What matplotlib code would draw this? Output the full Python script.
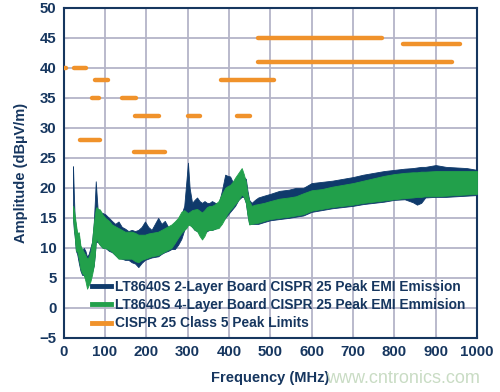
import numpy as np
import matplotlib
matplotlib.use("Agg")
import matplotlib.pyplot as plt
from matplotlib.lines import Line2D

# ---- data ----
freq = [23, 25, 27, 30, 33, 37, 41, 45, 49, 53, 57, 61, 65, 69, 73, 76, 78, 80, 83, 88,
        95, 101, 110, 117, 125, 133, 141, 149, 157, 165, 173, 181, 189, 197, 205, 213,
        221, 229, 237, 245, 253, 261, 269, 277, 285, 292, 297, 301, 305, 311, 317, 323,
        329, 335, 341, 347, 353, 359, 367, 375, 383, 391, 397, 403, 409, 415, 423, 431,
        436, 441, 445, 449, 455, 463, 471, 485, 500, 522, 545, 562, 580, 600, 625, 650,
        675, 700, 725, 750, 775, 800, 825, 845, 855, 865, 875, 900, 925, 950, 975, 1000]

green_lo = [15, 13.5, 12, 9.5, 9.5, 8.2, 6.5, 5.8, 5.5, 4.5, 3.2, 3.8, 4.4, 5.5, 7, 9, 11, 11.5, 11, 10.5,
            10, 10, 9.7, 9.4, 8.8, 8.2, 8.2, 8.2, 8.2, 8.2, 7.8, 7.6, 8, 8.2, 8.4, 8.6,
            8.7, 8.8, 9.1, 9.4, 9.7, 10, 10.8, 11.7, 12.5, 13, 13.3, 13.8, 13.8, 13.5, 13, 12.8,
            12, 11.4, 12, 13, 13, 13, 13.2, 13.3, 14, 15, 15.8, 16.3, 16.8, 17.3, 18, 18.9,
            18.5, 17.5, 15.5, 13.9, 14, 14.1, 14.2, 14.5, 14.8, 15, 15.2, 15.4, 15.6, 16.2, 16.5, 16.8,
            17, 17.2, 17.5, 17.7, 17.9, 18.1, 18.3, 18.4, 18.5, 18.5, 18.6, 18.6, 18.7, 18.8, 18.9, 19]
green_hi = [17, 16.5, 15.5, 14, 12.5, 12.6, 10.4, 9.8, 9.3, 8.8, 8.2, 8.5, 9.3, 11, 14, 15.5, 16.5, 16.8, 16.5, 16.4,
            15.5, 15, 14.5, 13.9, 13.6, 13.3, 13, 12.7, 12.7, 12.7, 12.5, 12.2, 12.2, 12.2, 12.4, 12.5,
            12.6, 12.7, 13, 13.3, 13.6, 13.9, 14.4, 15, 16, 16.3, 16, 15.8, 16, 16.3, 16.4, 16.5,
            16.2, 15.9, 16.3, 16.8, 17, 17, 17.3, 17.8, 19, 20, 20.3, 20.5, 21, 21.7, 22.5, 23.3,
            22.3, 21, 19, 17.8, 17, 17.2, 17.3, 17.5, 17.8, 18.2, 18.4, 18.6, 19.1, 19.6, 19.8, 20.2,
            20.5, 20.8, 21.2, 21.6, 22, 22.3, 22.5, 22.6, 22.6, 22.7, 22.7, 22.8, 22.8, 22.8, 22.8, 22.8]
blue_lo = [15, 13, 12, 9.5, 9, 7.5, 6.2, 5.5, 5.5, 5, 4.5, 5, 5.5, 6, 7, 9, 11, 11, 11, 10.5,
           10, 10, 9.5, 9.3, 8.8, 8.3, 8.2, 8, 8, 7.6, 7.4, 6.8, 7.5, 8, 8.2, 8.4,
           8.5, 8.6, 9, 9.3, 9.5, 9.8, 9.8, 10.5, 11.5, 13, 13.5, 14, 14, 13.5, 13, 12.8,
           12.5, 12, 12.5, 12.8, 13, 13, 13.2, 13.5, 14.5, 15, 15.5, 16, 16.5, 17, 18, 18.5,
           18.5, 17.5, 15.5, 14, 14, 14, 14, 14.3, 14.6, 14.8, 15, 15.2, 15.4, 16, 16.3, 16.6,
           16.8, 17, 17.3, 17.5, 17.7, 18, 18.1, 17.6, 17.2, 17.5, 18.4, 18.5, 18.5, 18.6, 18.7, 18.8]
blue_hi = [23.6, 19, 15, 13.5, 12, 12, 10, 9.5, 10, 9.5, 8.5, 9, 10, 11, 14, 18, 21.1, 19, 16, 16,
           15.8, 15.6, 15, 14.5, 14, 14.4, 13.5, 13.2, 12.8, 13, 12.8, 13, 13.5, 14.4, 13.5, 13,
           14, 15, 14, 14.5, 13.5, 13.5, 13, 14, 15.5, 17, 21, 24.2, 20, 17.5, 18, 18.4,
           17.8, 17.5, 17.8, 17.5, 17.5, 17.8, 17.5, 17.3, 19.5, 22.2, 22, 21.9, 21, 21.2, 21.5, 21.5,
           21.8, 21.5, 19.5, 18, 17.5, 18, 18.4, 18.7, 19, 19.5, 19.7, 20, 20, 20.8, 21, 21.2,
           21.5, 21.8, 22.2, 22.5, 22.8, 23, 23.2, 23.3, 23.4, 23.5, 23.5, 23.8, 23.5, 23.4, 23.3, 23]

# limit segments: (start MHz, stop MHz, level dBuV/m)
limit_start = [0.15, 26, 76, 68, 41, 142, 174, 171, 300, 380, 420, 470, 820, 470]
limit_stop = [6.2, 54, 108, 87, 88, 175, 230, 245, 330, 510, 450, 770, 960, 940]
limit_level = [40, 40, 38, 35, 28, 35, 32, 26, 32, 38, 32, 45, 44, 41]

labels = ["LT8640S 2-Layer Board CISPR 25 Peak EMI Emission",
          "LT8640S 4-Layer Board CISPR 25 Peak EMI Emmision",
          "CISPR 25 Class 5 Peak Limits"]

xticks = list(range(0, 1001, 100))
yticks = list(range(-5, 51, 5))

NAVY = "#16365f"
BLUE = "#0f3a6b"
GREEN = "#22a04b"
ORANGE = "#f0922b"
GRID = "#b4b4c8"

plt.rcParams['font.family'] = ['Liberation Sans', 'DejaVu Sans']

fig = plt.figure(figsize=(5.0, 3.92), dpi=100)
ax = fig.add_axes([0.127, 0.138, 0.827, 0.842])

ax.fill_between(freq, blue_lo, blue_hi, color=BLUE, lw=0.6, edgecolor=BLUE, zorder=3)
ax.fill_between(freq, green_lo, green_hi, color=GREEN, lw=0.6, edgecolor=GREEN, zorder=4)

for s, e, lv in zip(limit_start, limit_stop, limit_level):
    ax.plot([s, e], [lv, lv], color=ORANGE, lw=3.2, solid_capstyle='round', zorder=5)

ax.set_xlim(0, 1000)
ax.set_ylim(-5, 50)
ax.set_xticks(xticks)
ax.set_yticks(yticks)
ax.set_yticklabels([("\u2212" + str(-v)) if v < 0 else str(v) for v in yticks])
ax.grid(True, color=GRID, lw=1.3, zorder=0)
ax.set_axisbelow(True)
ax.tick_params(direction='in', length=3, color=GRID, labelcolor=NAVY, labelsize=10.8, pad=5)
for lab in ax.get_xticklabels() + ax.get_yticklabels():
    lab.set_fontweight('bold')
for sp in ax.spines.values():
    sp.set_color(NAVY)
    sp.set_linewidth(1.5)

ax.set_xlabel("Frequency (MHz)", fontsize=10.5, fontweight='bold', color=NAVY, labelpad=9)
ax.set_ylabel("Amplitude (dBµV/m)", fontsize=10.5, fontweight='bold', color=NAVY, labelpad=8)

handles = [Line2D([0], [0], color=BLUE, lw=3.5),
           Line2D([0], [0], color=GREEN, lw=3.5),
           Line2D([0], [0], color=ORANGE, lw=3.5)]
leg = ax.legend(handles, labels, loc='lower left', bbox_to_anchor=(0.05, 0.0), frameon=False,
                handlelength=1.4, handletextpad=0.3, labelspacing=0.3, borderaxespad=0.15,
                prop={'size': 9.9, 'weight': 'bold'})
for t in leg.get_texts():
    t.set_color(NAVY)
leg.set_zorder(6)

fig.text(0.96, 0.035, "www.cntronics.com", ha='right', va='center', fontsize=13,
         color="#c9dcc4")

fig.savefig("out.png", dpi=100)
